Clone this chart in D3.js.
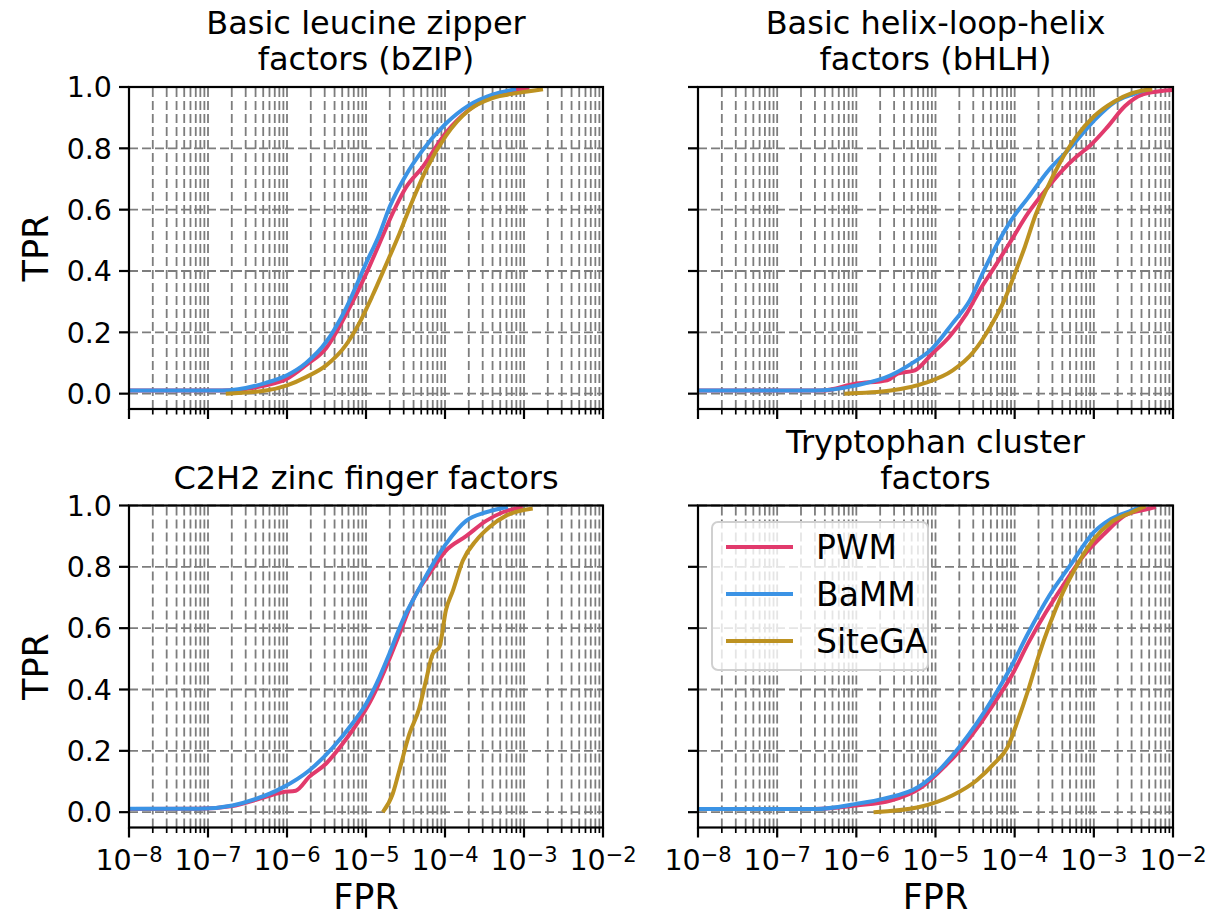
<!DOCTYPE html>
<html>
<head>
<meta charset="utf-8">
<script src="https://cdn.jsdelivr.net/npm/d3@7"></script>
<style>
  html, body { margin: 0; padding: 0; background: #ffffff; }
  svg { display: block; font-family: "DejaVu Sans", sans-serif; }
</style>
</head>
<body>
<svg id="chart" width="1223" height="919"></svg>
<script>
// ROC curves (TPR vs FPR) per TF family and motif model, [FPR, TPR] pairs
const bzipPWM = [[1e-8,0.01],[1.51e-7,0.01],[5.4e-7,0.027],[1e-6,0.049],[1.74e-6,0.093],[3.16e-6,0.15],[5.62e-6,0.26],[1e-5,0.39],[1.48e-5,0.49],[2.19e-5,0.59],[3.16e-5,0.67],[5.25e-5,0.74],[1.02e-4,0.85],[2.0e-4,0.925],[3.98e-4,0.97],[1.17e-3,0.997]];
const bzipBaMM = [[1e-8,0.01],[1.51e-7,0.01],[5.4e-7,0.035],[1e-6,0.06],[1.74e-6,0.10],[3.16e-6,0.17],[5.62e-6,0.28],[1e-5,0.425],[1.48e-5,0.52],[2.0e-5,0.61],[3.16e-5,0.71],[5.25e-5,0.795],[1.02e-4,0.88],[2.0e-4,0.94],[3.98e-4,0.975],[7.94e-4,0.993]];
const bzipSiteGA = [[1.68e-7,0.0],[5.4e-7,0.01],[1e-6,0.027],[1.74e-6,0.054],[3.16e-6,0.093],[5.62e-6,0.16],[8.22e-6,0.23],[1.21e-5,0.32],[1.79e-5,0.42],[2.63e-5,0.52],[3.89e-5,0.63],[5.75e-5,0.73],[1.02e-4,0.84],[2.04e-4,0.926],[3.98e-4,0.964],[7.94e-4,0.98],[1.74e-3,0.993]];

const bhlhPWM = [[1e-8,0.01],[3.67e-7,0.01],[1e-6,0.033],[2.46e-6,0.044],[3.33e-6,0.065],[5.48e-6,0.076],[9.06e-6,0.13],[1.49e-5,0.185],[2.46e-5,0.26],[3.67e-5,0.34],[5.48e-5,0.41],[9.06e-5,0.50],[1.49e-4,0.59],[2.23e-4,0.65],[4.06e-4,0.73],[6.07e-4,0.773],[9.06e-4,0.81],[1.49e-3,0.87],[2.46e-3,0.937],[4.06e-3,0.975],[6.70e-3,0.986],[1e-2,0.99]];
const bhlhBaMM = [[1e-8,0.01],[3.02e-7,0.01],[1e-6,0.027],[2.72e-6,0.06],[4.97e-6,0.098],[9.06e-6,0.147],[1.65e-5,0.23],[2.72e-5,0.305],[4.06e-5,0.40],[6.07e-5,0.49],[9.06e-5,0.566],[1.49e-4,0.64],[2.72e-4,0.73],[4.97e-4,0.80],[1e-3,0.89],[1.82e-3,0.95],[3.02e-3,0.975],[4.49e-3,0.99]];
const bhlhSiteGA = [[7.05e-7,0.0],[2.72e-6,0.01],[7.41e-6,0.035],[1.65e-5,0.076],[3.01e-5,0.136],[4.97e-5,0.22],[7.41e-5,0.305],[1e-4,0.39],[1.35e-4,0.48],[1.82e-4,0.58],[2.46e-4,0.66],[3.67e-4,0.75],[6.07e-4,0.84],[1e-3,0.904],[1.82e-3,0.953],[3.02e-3,0.98],[5.48e-3,0.993]];

const c2h2PWM = [[1e-8,0.01],[7.7e-8,0.011],[2.04e-7,0.02],[4.03e-7,0.04],[8.77e-7,0.065],[1.29e-6,0.07],[1.91e-6,0.115],[3.11e-6,0.158],[5.06e-6,0.223],[8.22e-6,0.30],[1.21e-5,0.375],[1.79e-5,0.473],[2.64e-5,0.58],[3.90e-5,0.69],[6.34e-5,0.777],[1.03e-4,0.853],[1.85e-4,0.90],[3.31e-4,0.95],[5.40e-4,0.978],[9.66e-4,0.995]];
const c2h2BaMM = [[1e-8,0.011],[7.7e-8,0.011],[2.04e-7,0.022],[4.03e-7,0.043],[8.77e-7,0.08],[1.91e-6,0.136],[3.78e-6,0.21],[6.76e-6,0.29],[1e-5,0.353],[1.48e-5,0.44],[1.97e-5,0.516],[2.91e-5,0.625],[4.30e-5,0.71],[6.34e-5,0.79],[1.03e-4,0.875],[1.85e-4,0.95],[3.31e-4,0.978],[6.24e-4,0.995]];
const c2h2SiteGA = [[1.63e-5,0.0],[2.18e-5,0.06],[2.64e-5,0.136],[3.54e-5,0.255],[4.74e-5,0.34],[5.75e-5,0.43],[7.0e-5,0.516],[8.49e-5,0.538],[1.03e-4,0.66],[1.25e-4,0.72],[1.68e-4,0.82],[2.48e-4,0.886],[3.66e-4,0.93],[5.94e-4,0.967],[1.29e-3,0.99]];

const trpPWM = [[1e-8,0.01],[3.02e-7,0.01],[1e-6,0.022],[2.72e-6,0.038],[6.70e-6,0.082],[1.35e-5,0.153],[2.01e-5,0.2],[3.33e-5,0.273],[5.48e-5,0.355],[9.06e-5,0.443],[1.49e-4,0.552],[2.46e-4,0.65],[4.06e-4,0.738],[7.41e-4,0.836],[1.35e-3,0.907],[2.46e-3,0.967],[4.49e-3,0.987],[6.07e-3,0.995]];
const trpBaMM = [[1e-8,0.01],[3.02e-7,0.01],[1e-6,0.027],[2.23e-6,0.044],[6.07e-6,0.082],[1.22e-5,0.148],[2.01e-5,0.213],[3.33e-5,0.29],[5.48e-5,0.377],[9.06e-5,0.475],[1.49e-4,0.585],[2.72e-4,0.705],[4.97e-4,0.803],[1e-3,0.913],[1.65e-3,0.956],[3.02e-3,0.984],[4.06e-3,0.998]];
const trpSiteGA = [[1.65e-6,0.0],[6.07e-6,0.016],[1.65e-5,0.055],[3.33e-5,0.104],[5.48e-5,0.158],[8.18e-5,0.213],[1.10e-4,0.30],[1.49e-4,0.40],[2.01e-4,0.51],[2.72e-4,0.607],[4.06e-4,0.716],[6.07e-4,0.803],[1e-3,0.89],[1.65e-3,0.945],[3.02e-3,0.978],[4.49e-3,0.998]];

const panelTitles = [
  ["Basic leucine zipper", "factors (bZIP)"],
  ["Basic helix-loop-helix", "factors (bHLH)"],
  ["C2H2 zinc finger factors"],
  ["Tryptophan cluster", "factors"]
];
const methodNames = ["PWM", "BaMM", "SiteGA"];
const panelSeries = [
  [bzipPWM, bzipBaMM, bzipSiteGA],
  [bhlhPWM, bhlhBaMM, bhlhSiteGA],
  [c2h2PWM, c2h2BaMM, c2h2SiteGA],
  [trpPWM, trpBaMM, trpSiteGA]
];
const xMajorTicks = [1e-8, 1e-7, 1e-6, 1e-5, 1e-4, 1e-3, 1e-2];
const xTickExponents = ["−8", "−7", "−6", "−5", "−4", "−3", "−2"];
const yTicks = [0.0, 0.2, 0.4, 0.6, 0.8, 1.0];

// styling
const methodColors = ["#e13a6c", "#3b93e5", "#bd9221"];
const colBounds = [[129, 603], [698, 1173]];
const rowBounds = [[87, 409], [505.5, 827.5]];
const gridColor = "#7d7d7d";
const tickFont = 28.5;

const svg = d3.select("#chart");
svg.append("rect").attr("width", 1223).attr("height", 919).attr("fill", "#ffffff");

panelSeries.forEach((series, i) => {
  const r = Math.floor(i / 2), c = i % 2;
  const [x0, x1] = colBounds[c];
  const [y0, y1] = rowBounds[r];
  const x = d3.scaleLog().domain([1e-8, 1e-2]).range([x0, x1]);
  const y = d3.scaleLinear().domain([-0.05, 1.0]).range([y1, y0]);
  const g = svg.append("g");

  const clipId = "clip" + i;
  svg.append("defs").append("clipPath").attr("id", clipId)
    .append("rect").attr("x", x0).attr("y", y0).attr("width", x1 - x0).attr("height", y1 - y0);

  const allXTicks = x.ticks();

  // vertical grid at major and minor ticks
  g.append("g").selectAll("line").data(allXTicks).join("line")
    .attr("x1", d => x(d)).attr("x2", d => x(d))
    .attr("y1", y1).attr("y2", y0)
    .attr("stroke", gridColor).attr("stroke-width", 1.8)
    .attr("stroke-dasharray", "9,4");

  // horizontal grid
  g.append("g").selectAll("line").data(yTicks).join("line")
    .attr("x1", x0).attr("x2", x1)
    .attr("y1", d => y(d)).attr("y2", d => y(d))
    .attr("stroke", gridColor).attr("stroke-width", 1.8)
    .attr("stroke-dasharray", "9,4");

  // curves
  const line = d3.line()
    .x(d => x(d[0])).y(d => y(d[1]))
    .curve(d3.curveMonotoneX);
  const lg = g.append("g").attr("clip-path", `url(#${clipId})`);
  series.forEach((pts, k) => {
    lg.append("path").datum(pts)
      .attr("d", line)
      .attr("fill", "none")
      .attr("stroke", methodColors[k])
      .attr("stroke-width", 4)
      .attr("stroke-linejoin", "round")
      .attr("stroke-linecap", "butt");
  });

  // spines
  g.append("rect").attr("x", x0).attr("y", y0)
    .attr("width", x1 - x0).attr("height", y1 - y0)
    .attr("fill", "none").attr("stroke", "#000").attr("stroke-width", 2.2);

  // x ticks
  const isMajor = v => Math.abs(Math.log10(v) - Math.round(Math.log10(v))) < 1e-9;
  g.append("g").selectAll("line").data(allXTicks).join("line")
    .attr("x1", d => x(d)).attr("x2", d => x(d))
    .attr("y1", y1).attr("y2", d => y1 + (isMajor(d) ? 10 : 5.5))
    .attr("stroke", "#000").attr("stroke-width", d => isMajor(d) ? 2.2 : 1.7);

  // y ticks
  g.append("g").selectAll("line").data(yTicks).join("line")
    .attr("x1", x0 - 10).attr("x2", x0)
    .attr("y1", d => y(d)).attr("y2", d => y(d))
    .attr("stroke", "#000").attr("stroke-width", 2.2);

  if (c === 0) {
    g.append("g").selectAll("text").data(yTicks).join("text")
      .attr("x", x0 - 17).attr("y", d => y(d)).attr("dy", "0.36em")
      .attr("text-anchor", "end").attr("font-size", tickFont).attr("fill", "#000")
      .text(d => d3.format(".1f")(d));
    g.append("text")
      .attr("transform", `translate(48,${(y0 + y1) / 2}) rotate(-90)`)
      .attr("text-anchor", "middle").attr("font-size", 35).attr("fill", "#000")
      .text("TPR");
  }

  if (r === 1) {
    const lab = g.append("g").selectAll("text").data(xMajorTicks).join("text")
      .attr("x", d => x(d)).attr("y", 870)
      .attr("text-anchor", "middle").attr("font-size", tickFont).attr("fill", "#000");
    lab.append("tspan").text("10");
    lab.append("tspan").attr("font-size", 21).attr("dy", -8)
      .text((d, j) => xTickExponents[j]);
    g.append("text")
      .attr("x", (x0 + x1) / 2).attr("y", 909)
      .attr("text-anchor", "middle").attr("font-size", 35).attr("fill", "#000")
      .text("FPR");
  }

  // title (last line sits just above the axes)
  const lines = panelTitles[i];
  const baseLast = y0 - 17;
  lines.forEach((t, j) => {
    g.append("text")
      .attr("x", (x0 + x1) / 2)
      .attr("y", baseLast - (lines.length - 1 - j) * 36)
      .attr("text-anchor", "middle").attr("font-size", 32).attr("fill", "#000")
      .text(t);
  });

  // legend in the last panel
  if (i === 3) {
    const leg = g.append("g");
    leg.append("rect").attr("x", 712).attr("y", 522)
      .attr("width", 216).attr("height", 148).attr("rx", 6)
      .attr("fill", "#ffffff").attr("fill-opacity", 0.8)
      .attr("stroke", "#d0d0d0").attr("stroke-width", 2);
    methodNames.forEach((name, k) => {
      const ly = 547 + k * 47;
      leg.append("line").attr("x1", 726).attr("x2", 793)
        .attr("y1", ly).attr("y2", ly)
        .attr("stroke", methodColors[k]).attr("stroke-width", 4);
      leg.append("text").attr("x", 816).attr("y", ly + 12)
        .attr("font-size", 33).attr("fill", "#000").text(name);
    });
  }
});
</script>
</body>
</html>
